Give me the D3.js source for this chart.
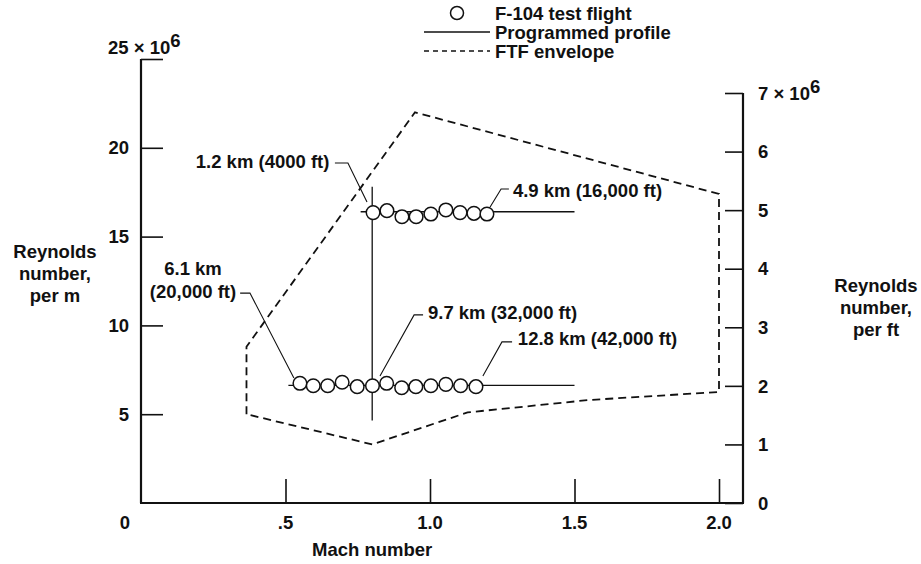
<!DOCTYPE html>
<html><head><meta charset="utf-8">
<script src="https://cdn.jsdelivr.net/npm/d3@7"></script>
<style>
body{margin:0;background:#fff;}
svg text{font-family:"Liberation Sans",Arial,Helvetica,sans-serif;font-weight:bold;fill:#111;}
</style></head>
<body><svg id="c" width="921" height="564"></svg>
<script>
// ---- data ----
const machTicks = [0.5, 1.0, 1.5, 2.0];
const machTickLabels = [".5", "1.0", "1.5", "2.0"];
const reMTicks = [5, 10, 15, 20, 25];
const reFtTicks = [0, 1, 2, 3, 4, 5, 6, 7];

const machUpper = [0.803, 0.851, 0.903, 0.952, 1.003, 1.055, 1.104, 1.152, 1.197];
const reUpper   = [16.35, 16.46, 16.12, 16.12, 16.27, 16.50, 16.35, 16.31, 16.27];
const machLower = [0.550, 0.596, 0.646, 0.696, 0.748, 0.801, 0.850, 0.902, 0.951, 1.003, 1.055, 1.106, 1.159];
const reLower   = [6.74, 6.60, 6.60, 6.80, 6.55, 6.60, 6.74, 6.49, 6.55, 6.60, 6.68, 6.60, 6.55];

const profileUpperMach = [0.76, 1.5], profileUpperRe = [16.4, 16.4];
const profileLowerMach = [0.51, 1.5], profileLowerRe = [6.62, 6.62];
const profileVertMach = [0.8, 0.8],  profileVertRe = [4.65, 17.8];

const envMach = [0.365, 0.365, 0.948, 2.0, 2.0, 1.55, 1.13, 0.8];
const envRe   = [5.0, 8.8, 22.0, 17.4, 6.25, 5.8, 5.1, 3.3];

const annTexts = [["1.2 km (4000 ft)"], ["6.1 km", "(20,000 ft)"], ["4.9 km (16,000 ft)"], ["9.7 km (32,000 ft)"], ["12.8 km (42,000 ft)"]];
const annMach = [0.652, 0.18, 1.287, 0.993, 1.304];
const annRe   = [18.85, 12.84, 17.23, 10.36, 8.90];
const annAnchor = ["end", "middle", "start", "start", "start"];
const leaderMach = [[0.671, 0.716, 0.782], [0.343, 0.377, 0.529], [1.273, 1.246, 1.208], [0.976, 0.945, 0.827], [1.284, 1.249, 1.183]];
const leaderRe   = [[19.14, 19.14, 16.95], [11.82, 11.82, 7.04], [17.68, 17.68, 16.67], [10.59, 10.59, 7.15], [9.07, 9.07, 7.15]];

const legendLabels = ["F-104 test flight", "Programmed profile", "FTF envelope"];

// ---- scales ----
const svg = d3.select("#c");
const x = d3.scaleLinear().domain([0, 2]).range([141, 719]);
const yM = d3.scaleLinear().domain([0, 25]).range([503, 59]);
const yF = d3.scaleLinear().domain([0, 7]).range([503, 93]);
const FS = 18.5;

// ---- axes ----
const left = svg.append("g").attr("transform", "translate(141,0)")
  .call(d3.axisRight(yM).tickValues(reMTicks).tickSize(22).tickFormat(""));
left.select(".domain").remove();
left.selectAll("line").attr("stroke", "#111").attr("stroke-width", 1.6);
svg.append("line").attr("x1", 141).attr("x2", 141).attr("y1", yM(25)).attr("y2", yM(0)).attr("stroke", "#111").attr("stroke-width", 2.2);
reMTicks.filter(d => d < 25).forEach(d => {
  svg.append("text").attr("x", 129).attr("y", yM(d)).attr("dy", "0.36em").attr("text-anchor", "end").attr("font-size", FS).text(d);
});
const t25 = svg.append("text").attr("x", 108).attr("y", yM(25) - 5).attr("font-size", FS);
t25.append("tspan").text("25 × 10");
t25.append("tspan").attr("dy", -7).text("6");

const right = svg.append("g").attr("transform", "translate(743,0)")
  .call(d3.axisLeft(yF).tickValues(reFtTicks).tickSize(18).tickFormat(""));
right.select(".domain").remove();
right.selectAll("line").attr("stroke", "#111").attr("stroke-width", 1.6);
svg.append("line").attr("x1", 743).attr("x2", 743).attr("y1", yF(7)).attr("y2", yF(0)).attr("stroke", "#111").attr("stroke-width", 2.2);
reFtTicks.forEach(d => {
  const t = svg.append("text").attr("x", 758).attr("y", yF(d)).attr("dy", "0.36em").attr("font-size", FS);
  if (d === 7) { t.append("tspan").text("7 × 10"); t.append("tspan").attr("dy", -7).text("6"); }
  else t.text(d);
});

const bottom = svg.append("g").attr("transform", "translate(0,503)")
  .call(d3.axisTop(x).tickValues(machTicks).tickSize(24).tickFormat(""));
bottom.select(".domain").remove();
bottom.selectAll("line").attr("stroke", "#111").attr("stroke-width", 1.6);
svg.append("line").attr("x1", 140).attr("x2", 744).attr("y1", 503).attr("y2", 503).attr("stroke", "#111").attr("stroke-width", 2.2);
machTicks.forEach((d, i) => {
  svg.append("text").attr("x", x(d)).attr("y", 522).attr("dy", "0.36em").attr("text-anchor", "middle").attr("font-size", FS).text(machTickLabels[i]);
});
svg.append("text").attr("x", x(0) - 16).attr("y", 522).attr("dy", "0.36em").attr("text-anchor", "middle").attr("font-size", FS).text("0");

svg.append("text").attr("x", x(0.8)).attr("y", 549).attr("dy", "0.36em").attr("text-anchor", "middle").attr("font-size", FS).text("Mach number");
["Reynolds", "number,", "per m"].forEach((s, i) => {
  svg.append("text").attr("x", 55).attr("y", 258 + i * 22).attr("text-anchor", "middle").attr("font-size", FS).text(s);
});
["Reynolds", "number,", "per ft"].forEach((s, i) => {
  svg.append("text").attr("x", 876).attr("y", 292 + i * 22).attr("text-anchor", "middle").attr("font-size", FS).text(s);
});

// ---- envelope ----
const env = envMach.map((m, i) => [x(m), yM(envRe[i])]);
svg.append("path").attr("d", d3.line()(env) + "Z").attr("fill", "none").attr("stroke", "#111")
  .attr("stroke-width", 1.8).attr("stroke-dasharray", "8,5");

// ---- programmed profiles ----
const line = d3.line();
[[profileUpperMach, profileUpperRe], [profileLowerMach, profileLowerRe], [profileVertMach, profileVertRe]].forEach(([ms, rs]) => {
  svg.append("path").attr("d", line(ms.map((m, i) => [x(m), yM(rs[i])]))).attr("fill", "none").attr("stroke", "#111").attr("stroke-width", 1.3);
});

// ---- flight points ----
[[machUpper, reUpper], [machLower, reLower]].forEach(([ms, rs]) => {
  svg.append("g").selectAll("circle").data(ms).join("circle")
    .attr("cx", d => x(d)).attr("cy", (d, i) => yM(rs[i])).attr("r", 6.8)
    .attr("fill", "#fff").attr("stroke", "#111").attr("stroke-width", 1.5);
});

// ---- annotations ----
annTexts.forEach((lines, i) => {
  lines.forEach((s, j) => {
    svg.append("text").attr("x", x(annMach[i])).attr("y", yM(annRe[i]) + j * 23)
      .attr("text-anchor", annAnchor[i]).attr("font-size", FS).text(s);
  });
  svg.append("path").attr("d", line(leaderMach[i].map((m, k) => [x(m), yM(leaderRe[i][k])])))
    .attr("fill", "none").attr("stroke", "#111").attr("stroke-width", 1.1);
});

// ---- legend ----
const legY = [13, 32, 51];
svg.append("circle").attr("cx", 457).attr("cy", legY[0]).attr("r", 6.5).attr("fill", "#fff").attr("stroke", "#111").attr("stroke-width", 1.5);
svg.append("line").attr("x1", 424).attr("x2", 490).attr("y1", legY[1]).attr("y2", legY[1]).attr("stroke", "#111").attr("stroke-width", 1.3);
svg.append("line").attr("x1", 424).attr("x2", 490).attr("y1", legY[2]).attr("y2", legY[2]).attr("stroke", "#111").attr("stroke-width", 1.3).attr("stroke-dasharray", "5,4");
legendLabels.forEach((s, i) => {
  svg.append("text").attr("x", 495).attr("y", legY[i]).attr("dy", "0.36em").attr("font-size", FS).text(s);
});
</script></body></html>
